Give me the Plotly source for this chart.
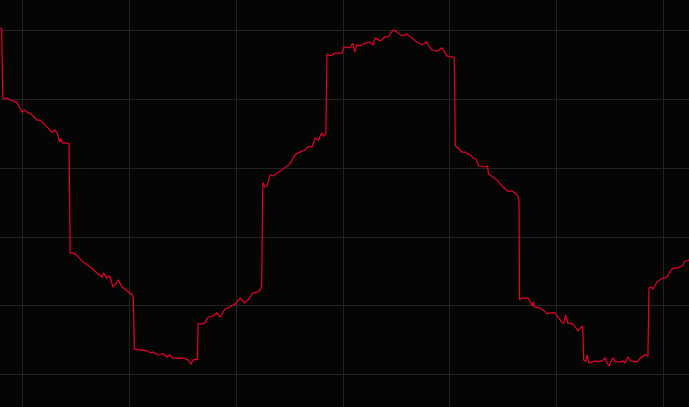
import plotly.graph_objects as go

# ============================================================
# Serie de la señal
# ============================================================

t = [
    -2.06, -1.9, -1.8, -1.6, -1.4, -1.1, -0.8, -0.5, 0.0, 0.2, 0.6, 0.75, 1.4, 1.7,
    2.15, 2.8, 3.1, 3.3, 3.5, 3.6, 3.8, 4.1, 4.4,
    4.5, 4.7, 5.1, 5.6, 6.1, 6.5, 7.1, 7.5, 7.6, 7.9, 8.2, 8.5, 8.9, 9.0, 9.35, 9.8,
    10.3, 10.4,
    10.5, 10.6, 11.0, 11.7, 12.0, 12.2, 12.7, 13.2, 13.55, 13.8, 14.1, 14.5, 15.05,
    15.5, 15.8, 16.0, 16.4,
    16.45, 16.8, 17.1, 17.4, 17.85, 18.2, 18.5, 18.97, 19.4, 19.9, 20.4, 20.8, 21.1,
    21.6, 22.1, 22.4,
    22.5, 22.7, 22.9, 23.2, 23.5, 23.9, 24.4, 25.05, 25.5, 25.8, 26.45, 26.7, 27.1,
    27.4, 27.7, 28.0, 28.2, 28.4,
    28.5, 28.8, 29.25, 29.9, 30.1, 30.65, 30.9, 31.1, 31.3, 31.6, 32.06, 32.5, 32.8,
    33.0, 33.5, 33.9, 34.2, 34.7, 35.05, 35.5, 36.0, 36.45, 36.9, 37.4, 37.8, 38.3,
    38.8, 39.25, 39.7, 40.0, 40.2, 40.4,
    40.5, 40.75, 41.1, 41.4, 41.9, 42.15, 42.4, 42.7, 43.3, 43.5, 43.6, 44.4, 44.95,
    45.4, 45.8, 46.3, 46.45,
    46.5, 46.7, 47.0, 47.3, 47.7, 47.8, 47.9, 48.4, 48.7, 49.1, 49.35, 49.8, 50.1,
    50.5, 50.65, 50.8, 51.0, 51.5, 51.96, 52.4,
    52.5, 52.7, 52.8, 53.0, 53.55, 53.8, 54.2, 54.5, 54.7, 54.86, 55.2, 55.5, 55.9,
    56.2, 56.36, 56.6, 56.9, 57.5, 57.9, 58.2, 58.5,
    58.6, 58.8, 58.97, 59.35, 59.9, 60.3, 60.56, 60.84, 61.2, 61.7, 61.96, 62.34,
]

valor = [
    100.6, 100.3, 80.3, 80.0, 80.3, 79.7, 79.4, 79.1, 76.2, 76.8, 75.9, 75.9, 73.9, 73.9,
    72.5, 70.4, 71.0, 70.1, 67.5, 68.4, 67.3, 67.3, 67.0,
    35.4, 35.4, 34.8, 33.0, 31.9, 31.0, 29.3, 28.4, 29.6, 28.1, 28.7, 25.5, 27.0, 27.5, 25.5, 24.4,
    23.2, 22.3,
    7.5, 7.5, 7.3, 7.0, 6.4, 6.7, 5.8, 6.1, 5.2, 5.8, 4.9, 4.9, 4.9,
    4.4, 3.2, 4.4, 4.6,
    14.8, 14.8, 15.1, 16.8, 17.1, 18.0, 16.8, 19.1, 19.7, 20.6, 22.3, 20.9, 21.7,
    23.8, 24.1, 25.5,
    55.7, 54.5, 54.8, 58.0, 57.7, 58.6, 59.7, 61.2, 63.8, 64.4, 65.2, 66.1, 66.1,
    68.7, 68.1, 70.1, 69.3, 70.1,
    93.0, 92.5, 93.3, 93.3, 95.1, 94.8, 96.2, 93.6, 95.7, 95.4, 96.2, 96.5, 95.7,
    97.7, 96.8, 98.0, 98.0, 100.0, 99.4, 98.3, 98.8, 97.7, 96.5, 95.7, 96.5, 94.2,
    93.9, 94.8, 92.5, 92.2, 92.2, 91.9,
    66.4, 65.8, 64.6, 64.6, 63.8, 62.9, 62.6, 60.6, 60.3, 60.6, 58.3, 56.5, 54.5,
    53.3, 53.3, 52.2, 50.7,
    21.7, 22.3, 22.3, 22.3, 20.0, 21.2, 19.7, 19.4, 18.8, 17.7, 18.0, 18.0, 16.8,
    15.1, 15.1, 17.4, 15.1, 14.8, 12.8, 14.2,
    4.4, 3.8, 5.8, 3.5, 4.1, 3.8, 4.1, 4.9, 3.5, 2.6, 4.9, 3.8, 3.8,
    4.1, 3.5, 5.2, 4.1, 3.8, 5.2, 5.8, 5.5,
    25.2, 25.5, 24.9, 27.0, 28.1, 28.4, 29.9, 31.0, 31.0, 31.6, 33.0, 33.3,
]

fig = go.Figure(
    go.Scatter(
        x=t,
        y=valor,
        mode='lines',
        line=dict(color='#e8002d', width=1.2),
        hoverinfo='skip'
    )
)

fig.update_layout(
    paper_bgcolor='#050505',
    plot_bgcolor='#050505',
    width=689,
    height=407,
    showlegend=False,
    margin=dict(l=0, r=0, t=0, b=0)
)
fig.update_xaxes(
    range=[-2.06, 62.34], tick0=0, dtick=10,
    showgrid=True, gridcolor='#232323', gridwidth=1,
    zeroline=False, showticklabels=False, showline=False
)
fig.update_yaxes(
    range=[-9.28, 108.7], tick0=0, dtick=20,
    showgrid=True, gridcolor='#232323', gridwidth=1,
    zeroline=False, showticklabels=False, showline=False
)

# quitar el margen blanco del body para que el gráfico ocupe toda la ventana
ajuste_pagina = (
    "document.body.style.margin='0';"
    "document.body.style.background='#050505';"
    "document.body.style.overflow='hidden';"
)

fig.write_html(
    "out.html",
    config={'displayModeBar': False},
    post_script=ajuste_pagina
)
